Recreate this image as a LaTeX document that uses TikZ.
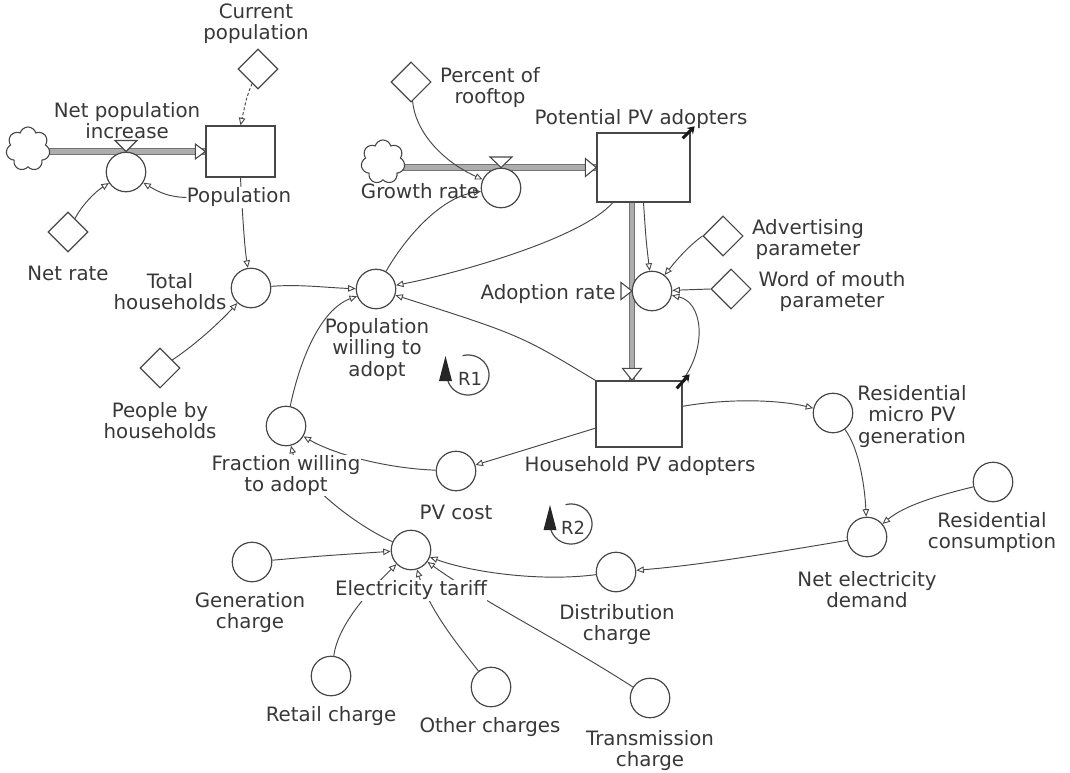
\documentclass[tikz,border=0pt]{standalone}
\usepackage{fontspec}
\setmainfont{DejaVu Sans}
\usetikzlibrary{arrows.meta,shapes.geometric,shapes.symbols,calc}
\pgfdeclarelayer{bg}
\pgfdeclarelayer{lbl}
\pgfsetlayers{bg,lbl,main}
\tikzset{
 ln/.style={draw=black!72, line width=0.95pt},
 aux/.style={circle, draw=black!72, line width=1.2pt, fill=white, minimum size=39.5pt, inner sep=0pt},
 cst/.style={diamond, draw=black!72, line width=1.1pt, fill=white, minimum width=40pt, minimum height=40pt, inner sep=0pt},
 stk/.style={rectangle, draw=black!72, line width=1.4pt, fill=white, inner sep=0pt},
 cld/.style={cloud, cloud puffs=7, cloud ignores aspect, draw=black!72, line width=1.1pt, fill=white, minimum width=44pt, minimum height=44pt, inner sep=0pt},
 txt/.style={text=black!78, align=center, font=\fontsize{19.8}{21.5}\selectfont, inner sep=0.5pt, yshift=-1.5pt},
 mask/.style={txt, fill=white},
 link/.style={ln, -{Triangle[open, length=7.5pt, width=6.5pt, line width=0.9pt]}},
 pipe/.style={line width=1.2pt, draw=black!55, double=black!32, double distance=4.2pt},
 tipf/.style={draw=black!72, line width=1.1pt, fill=white, line join=miter},
 corner/.style={draw=black!90, line width=3pt, -{Stealth[length=7pt,width=9pt]}},
 loopa/.style={draw=black!72, line width=1.2pt},
}
\begin{document}
\begin{tikzpicture}[x=1pt,y=-1pt]
\useasboundingbox (0,0) rectangle (1070,773);
% stocks
\node[stk, minimum width=69pt, minimum height=51pt] (pop) at (240.5,151.5) {};
\node[stk, minimum width=93pt, minimum height=69pt] (ppv) at (643.5,167.5) {};
\node[stk, minimum width=86pt, minimum height=66pt] (hpv) at (639,414) {};
% clouds
\node[cld] (c1) at (28,149) {};
\node[cld] (c2) at (383,162) {};
% auxiliaries
\node[aux] (npi) at (126,172) {};
\node[aux] (gr) at (501,188) {};
\node[aux] (th) at (251,288) {};
\node[aux] (pwa) at (376,289) {};
\node[aux] (ar) at (652,291) {};
\node[aux] (fwa) at (286,426) {};
\node[aux] (pvc) at (456,471) {};
\node[aux] (mic) at (833,413) {};
\node[aux] (rc) at (993,482) {};
\node[aux] (ned) at (867,537) {};
\node[aux] (et) at (411,550) {};
\node[aux] (gc) at (252,562) {};
\node[aux] (dc) at (616,572) {};
\node[aux] (rt) at (331,676) {};
\node[aux] (ot) at (491,687) {};
\node[aux] (tc) at (650,698) {};
% constants
\node[cst] (cp) at (258,69) {};
\node[cst] (nr) at (68,232) {};
\node[cst] (pbh) at (160,368) {};
\node[cst] (por) at (411,82) {};
\node[cst] (adv) at (723,236) {};
\node[cst] (wom) at (731,289) {};
\coordinate (adx) at (632,291);

\begin{pgfonlayer}{bg}
% flows
\draw[pipe] (c1.center |- pop.west) -- (pop.west);
\draw[pipe] (c2.center |- ppv.west) -- (ppv.west);
\draw[pipe] (adx |- ppv.south) -- (adx |- hpv.north);
% links
\draw[link, dash pattern=on 3pt off 2pt] (cp) .. controls (247,96) .. (pop.north);
\draw[link] (pop.south) .. controls (243,225) and (245,250) .. (th);
\draw[link] (nr) .. controls (82,205) and (95,192) .. (npi);
\draw[link] (th) .. controls (300,284) and (330,288) .. (pwa);
\draw[link] (pbh) .. controls (195,345) and (220,322) .. (th);
\draw[link] (pwa) .. controls (405,238) and (440,198) .. (gr);
\draw[link] (por) .. controls (415,130) and (440,160) .. (gr);
\draw[link] (ppv) .. controls (580,240) and (450,275) .. (pwa);
\draw[link] (hpv.north west) .. controls (520,335) .. (pwa);
\draw[link] (ppv.south) .. controls (646,240) .. (ar);
\draw[link] (adv.west) .. controls (690,245) and (678,258) .. (ar);
\draw[link] (wom.west) -- (ar);
\draw[link] (hpv.north east) .. controls (708,345) and (702,302) .. (ar);
\draw[link] (hpv.198) -- (pvc);
\draw[link] (pvc) .. controls (380,468) and (330,452) .. (fwa);
\draw[link] (fwa) .. controls (300,360) and (320,310) .. (pwa);
\draw[link] (et) .. controls (355,525) and (300,482) .. (fwa);
\draw[link] (gc) .. controls (320,556) .. (et);
\draw[link] (dc) .. controls (540,582) and (470,572) .. (et);
\draw[link] (rt) .. controls (338,625) and (368,592) .. (et);
\draw[link] (ot) .. controls (462,650) and (430,612) .. (et);
\draw[link] (tc) .. controls (560,640) and (480,600) .. (et);
\draw[link] (ned) .. controls (760,555) and (700,565) .. (dc);
\draw[link] (mic) .. controls (860,450) and (865,490) .. (ned);
\draw[link] (rc) .. controls (940,495) and (905,505) .. (ned);
\draw[link] (hpv.10) .. controls (730,398) and (780,400) .. (mic);
\end{pgfonlayer}

\begin{pgfonlayer}{lbl}
\node[txt] (lcp) at (256,22) {Current\\population};
\node[txt] (lnpi) at (127,119) {Net population\\increase};
\node[mask] (lpop) at (239,196) {Population};
\node[txt] (lnr) at (68,272) {Net rate};
\node[txt] (lth) at (170,290) {Total\\households};
\node[txt] (lpbh) at (160,419) {People by\\households};
\node[txt] (lpwa) at (377,348) {Population\\willing to\\adopt};
\node[txt] (lpor) at (490,86) {Percent of\\rooftop};
\node[txt] (lppv) at (641,118) {Potential PV adopters};
\node[txt] (lgr) at (420,190) {Growth rate};
\node[txt] (lar) at (548,293) {Adoption rate};
\node[txt] (ladv) at (808,238) {Advertising\\parameter};
\node[txt] (lwom) at (832,290) {Word of mouth\\parameter};
\node[txt] (lhpv) at (640,465) {Household PV adopters};
\node[txt] (lmic) at (912,415) {Residential\\micro PV\\generation};
\node[txt] (lrc) at (992,531) {Residential\\consumption};
\node[txt] (lned) at (867,588) {Net electricity\\demand};
\node[mask] (lfwa) at (286,474) {Fraction willing\\to adopt};
\node[txt] (lpvc) at (456,511) {PV cost};
\node[mask] (let) at (411,589) {Electricity tariff};
\node[txt] (lgc) at (250,611) {Generation\\charge};
\node[txt] (ldc) at (617,623) {Distribution\\charge};
\node[txt] (lrt) at (331,715) {Retail charge};
\node[txt] (lot) at (490,726) {Other charges};
\node[txt] (ltc) at (650,749) {Transmission\\charge};
\end{pgfonlayer}
\draw[link] (lpop.west) .. controls (170,197) and (160,193) .. (npi);

% flow tips and valves
\draw[tipf] (pop.west) -- ++(-10,-7.5) -- ++(0,15) -- cycle;
\draw[tipf] (ppv.west) -- ++(-11,-9) -- ++(0,18) -- cycle;
\draw[tipf] (adx |- hpv.north) -- ++(-9.5,-12) -- ++(19,0) -- cycle;
\draw[tipf] (npi |- pop.west) -- ++(-11,-11) -- ++(22,0) -- cycle;
\draw[tipf] (gr |- ppv.west) -- ++(-11,-10.5) -- ++(22,0) -- cycle;
\draw[tipf] (adx) -- ++(-11,-8.5) -- ++(0,17) -- cycle;

% corner markers
\draw[corner] ($(ppv.north east)+(-8,6)$) -- ($(ppv.north east)+(4,-6)$);
\draw[corner] ($(hpv.north east)+(-6,8)$) -- ($(hpv.north east)+(7,-6)$);

% loop symbols
\draw[loopa] plot[domain=-105:165, samples=50] ({468+21*cos(\x)},{375+20*sin(\x)});
\fill[black!85] (439,381) -- (445.5,356) -- (452,381) -- cycle;
\node[txt, font=\fontsize{18}{18}\selectfont] (r1) at (470,377) {R1};
\draw[loopa] plot[domain=-105:165, samples=50] ({571+21*cos(\x)},{524+20*sin(\x)});
\fill[black!85] (543.5,530) -- (550,505) -- (556.5,530) -- cycle;
\node[txt, font=\fontsize{18}{18}\selectfont] (r2) at (573,526) {R2};
\end{tikzpicture}
\end{document}
